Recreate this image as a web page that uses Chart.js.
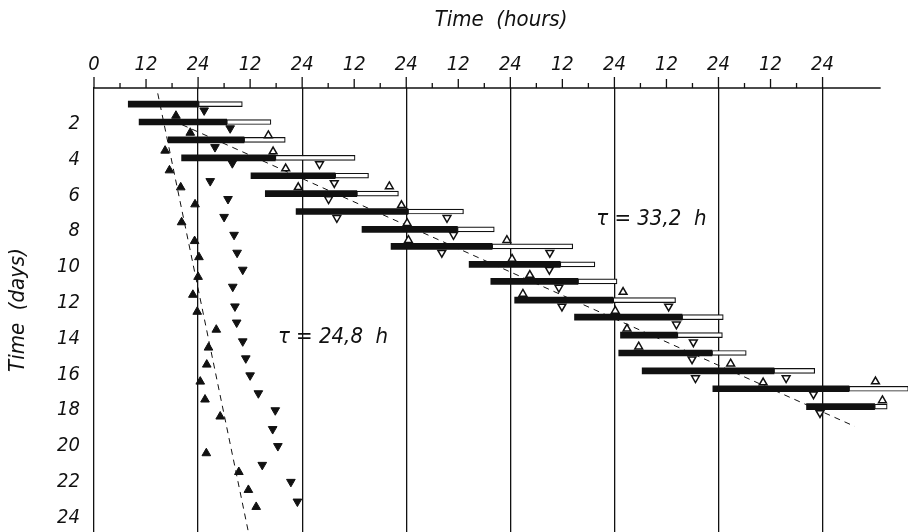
<!DOCTYPE html>
<html>
<head>
<meta charset="utf-8">
<script src="https://cdn.jsdelivr.net/npm/chart.js@4.4.1/dist/chart.umd.min.js"></script>
<style>
  html, body { margin: 0; padding: 0; background: #fff; }
  canvas { display: block; }
</style>
</head>
<body>
<canvas id="chart" width="908" height="532"></canvas>
<script>
// rows of the actogram: day position, start of activity (black), end of activity, end of rest (white)
var barDays = [ 0.9, 1.9, 2.9, 3.9, 4.9, 5.9, 6.9, 7.9, 8.85, 9.85, 10.8, 11.85, 12.8, 13.8, 14.8, 15.8, 16.8, 17.8 ];
var activeStart = [ 7.9, 10.4, 17.1, 20.2, 36.2, 39.5, 46.6, 61.8, 68.5, 86.5, 91.5, 97.0, 110.8, 121.4, 121.0, 126.4, 142.7, 164.3 ];
var activeEnd = [ 24.1, 30.6, 34.6, 41.8, 55.6, 60.6, 72.4, 83.8, 91.8, 107.5, 111.6, 119.7, 135.6, 134.5, 142.5, 156.8, 174.1, 180.0 ];
var restEnd = [ 34.2, 40.8, 44.1, 60.2, 63.3, 70.2, 85.2, 92.3, 110.4, 115.5, 120.6, 134.1, 145.1, 144.9, 150.4, 166.2, 187.8, 182.9 ];

// triangles: [hour, day]
var solidUp = [ [18.9,1.55],[22.2,2.5],[16.4,3.5],[17.4,4.6],[20.0,5.55],[23.3,6.5],[20.2,7.5],[23.2,8.55],[24.2,9.45],[24.0,10.55],[22.8,11.55],[23.8,12.5],[28.2,13.5],[26.4,14.5],[26.0,15.45],[24.5,16.4],[25.6,17.4],[29.1,18.35],[25.9,20.4],[33.4,21.45],[35.6,22.45],[37.4,23.4] ];
var solidDown = [ [25.4,1.25],[31.4,2.25],[27.9,3.3],[31.9,4.2],[26.8,5.2],[30.9,6.2],[30.0,7.2],[32.3,8.2],[33.0,9.2],[34.3,10.15],[32.0,11.1],[32.5,12.2],[32.9,13.1],[34.3,14.15],[35.0,15.1],[36.0,16.05],[37.9,17.05],[41.8,18.0],[41.2,19.05],[42.4,20.0],[38.8,21.05],[45.4,22.0],[46.9,23.1] ];
var openUp = [ [40.2,2.65],[41.3,3.55],[44.2,4.5],[47.1,5.55],[68.1,5.5],[70.9,6.55],[72.2,7.55],[72.5,8.5],[95.2,8.5],[96.4,9.55],[100.5,10.45],[98.9,11.5],[122.0,11.4],[120.2,12.45],[122.9,13.45],[125.6,14.45],[146.8,15.4],[154.3,16.45],[180.2,16.4],[181.8,17.45] ];
var openDown = [ [52.0,4.25],[55.4,5.3],[54.1,6.2],[56.0,7.25],[81.4,7.25],[82.9,8.2],[80.2,9.2],[105.1,9.2],[105.0,10.15],[107.2,11.15],[107.9,12.2],[132.5,12.2],[134.3,13.2],[138.2,14.2],[137.9,15.15],[138.7,16.2],[159.6,16.2],[165.9,17.1],[167.4,18.15] ];

// dashed period lines: [hour, day]
var trend248 = [ [14.7,0.3], [35.6,24.8] ];
var trend332 = [ [18.0,1.8], [175.4,18.9] ];

var dayTicks = [ 2, 4, 6, 8, 10, 12, 14, 16, 18, 20, 22, 24 ];

var ink = "#111";
var face = "'Liberation Sans Narrow', 'DejaVu Sans Condensed', 'Liberation Sans', sans-serif";

function pts( list ) {
    return list.map( function ( p ) { return { x: p[ 0 ], y: p[ 1 ] }; } );
}

// axis line with 6 h / 12 h / 24 h tick marks, and the two period labels
var hourMarks = {
    id: "hourMarks",
    afterDraw: function ( chart ) {
        var ctx = chart.ctx, x = chart.scales.x, y = chart.scales.y;
        var top = chart.chartArea.top;
        ctx.save();
        ctx.strokeStyle = ink;
        ctx.lineWidth = 1.3;
        ctx.beginPath();
        ctx.moveTo( x.getPixelForValue( 0 ), top );
        ctx.lineTo( x.getPixelForValue( 181.4 ), top );
        for ( var h = 0; h <= 168; h += 6 ) {
            var px = x.getPixelForValue( h );
            var len = h % 24 === 0 ? 11 : ( h % 12 === 0 ? 9 : 5 );
            ctx.moveTo( px, top );
            ctx.lineTo( px, top - len );
        }
        ctx.stroke();
        ctx.fillStyle = ink;
        ctx.font = "italic 22px " + face;
        ctx.textAlign = "left";
        ctx.textBaseline = "middle";
        ctx.fillText( "\u03C4 = 33,2  h", x.getPixelForValue( 115.8 ), y.getPixelForValue( 7.35 ) );
        ctx.fillText( "\u03C4 = 24,8  h", x.getPixelForValue( 42.4 ), y.getPixelForValue( 13.9 ) );
        ctx.restore();
    }
};

new Chart( document.getElementById( "chart" ), {
    type: "scatter",
    data: {
        datasets: [
            {
                type: "bar", indexAxis: "y", grouped: false, order: 4,
                data: barDays.map( function ( d, i ) { return { y: d, x: [ activeStart[ i ], activeEnd[ i ] ] }; } ),
                backgroundColor: ink, barThickness: 6, borderWidth: 0, clip: false
            },
            {
                type: "bar", indexAxis: "y", grouped: false, order: 3,
                data: barDays.map( function ( d, i ) { return { y: d, x: [ activeEnd[ i ], restEnd[ i ] ] }; } ),
                backgroundColor: "#fff", borderColor: ink, borderWidth: 1.2, borderSkipped: false,
                barThickness: 5, clip: false
            },
            {
                type: "line", order: 5, data: pts( trend248 ), borderColor: ink, borderWidth: 1,
                borderDash: [ 6, 5 ], pointRadius: 0, fill: false
            },
            {
                type: "line", order: 5, data: pts( trend332 ), borderColor: ink, borderWidth: 1,
                borderDash: [ 6, 5 ], pointRadius: 0, fill: false
            },
            {
                order: 1, data: pts( solidUp ), pointStyle: "triangle", pointRadius: 5,
                backgroundColor: ink, borderColor: ink, borderWidth: 1
            },
            {
                order: 1, data: pts( solidDown ), pointStyle: "triangle", pointRotation: 180, pointRadius: 5,
                backgroundColor: ink, borderColor: ink, borderWidth: 1
            },
            {
                order: 1, data: pts( openUp ), pointStyle: "triangle", pointRadius: 4.5,
                backgroundColor: "#fff", borderColor: ink, borderWidth: 1.5
            },
            {
                order: 1, data: pts( openDown ), pointStyle: "triangle", pointRotation: 180, pointRadius: 4.5,
                backgroundColor: "#fff", borderColor: ink, borderWidth: 1.5
            }
        ]
    },
    options: {
        responsive: false,
        animation: false,
        layout: { padding: 0, autoPadding: false },
        plugins: { legend: { display: false }, tooltip: { enabled: false } },
        scales: {
            x: {
                type: "linear", position: "top", min: 0, max: 187.7, offset: false,
                afterFit: function ( scale ) {
                    scale.height = 88;
                    scale.paddingLeft = 0;
                    scale.paddingRight = 0;
                },
                border: { display: false },
                grid: {
                    drawTicks: false,
                    offset: false,
                    lineWidth: 1.3,
                    color: function ( c ) {
                        return c.tick && c.tick.value > 0 && c.tick.value % 24 === 0 ? ink : "transparent";
                    }
                },
                ticks: {
                    stepSize: 12, padding: 11, color: ink,
                    font: { family: face, size: 20, style: "italic" },
                    callback: function ( v ) {
                        if ( v === 0 ) return "0";
                        if ( v > 168 ) return "";
                        return v % 24 === 0 ? "24" : "12";
                    }
                },
                title: {
                    display: true, text: "Time  (hours)", color: ink, padding: { top: 7 },
                    font: { family: face, size: 22, style: "italic" }
                }
            },
            y: {
                type: "linear", reverse: true, min: 0, max: 24.8, offset: false,
                afterBuildTicks: function ( scale ) {
                    scale.ticks = dayTicks.map( function ( v ) { return { value: v }; } );
                },
                afterFit: function ( scale ) {
                    scale.width = 94;
                    scale.paddingTop = 0;
                    scale.paddingBottom = 0;
                },
                border: { display: true, color: ink, width: 1.3 },
                grid: { display: false, drawTicks: false, offset: false },
                ticks: {
                    padding: 14, color: ink,
                    font: { family: face, size: 20, style: "italic" }
                },
                title: {
                    display: true, text: "Time  (days)", color: ink, padding: { top: 5 },
                    font: { family: face, size: 22, style: "italic" }
                }
            }
        }
    },
    plugins: [ hourMarks ]
} );
</script>
</body>
</html>
